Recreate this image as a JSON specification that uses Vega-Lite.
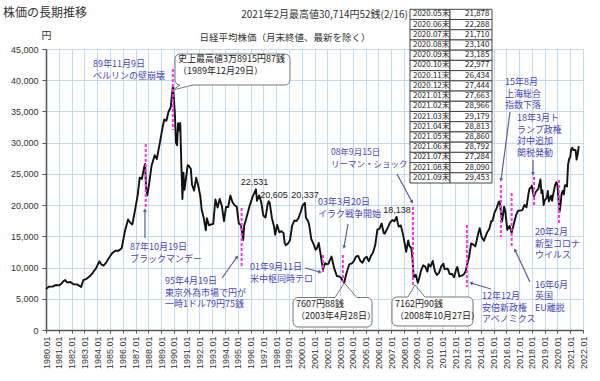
{
  "$schema": "https://vega.github.io/schema/vega-lite/v6.json",
  "width": 537,
  "height": 281,
  "autosize": {"type": "none"},
  "padding": {"left": 46, "top": 49, "right": 17, "bottom": 51},
  "background": "white",
  "config": {
    "font": "Noto Sans CJK JP",
    "view": {"stroke": "#a0a8b0"},
    "axis": {
      "labelFont": "Liberation Sans",
      "labelFontSize": 9,
      "labelColor": "#333",
      "gridColor": "#c2daf2",
      "gridOpacity": 1,
      "domainColor": "#555",
      "domainWidth": 1.5,
      "tickColor": "#555"
    }
  },
  "datasets": {
    "nikkei": [
      {"t":1980.00,"v":6560},{"t":1980.25,"v":6950},{"t":1980.50,"v":6950},{"t":1980.75,"v":7200},
      {"t":1981.00,"v":7150},{"t":1981.17,"v":7350},{"t":1981.33,"v":7750},{"t":1981.50,"v":8000},{"t":1981.67,"v":7600},{"t":1981.92,"v":7680},
      {"t":1982.17,"v":7300},{"t":1982.42,"v":7300},{"t":1982.75,"v":6900},{"t":1982.92,"v":8000},
      {"t":1983.17,"v":8200},{"t":1983.42,"v":8600},{"t":1983.67,"v":9200},{"t":1983.92,"v":9900},
      {"t":1984.17,"v":11000},{"t":1984.33,"v":10500},{"t":1984.50,"v":10300},{"t":1984.67,"v":10700},{"t":1984.92,"v":11540},
      {"t":1985.17,"v":12300},{"t":1985.42,"v":12700},{"t":1985.67,"v":12700},{"t":1985.92,"v":13110},
      {"t":1986.17,"v":15800},{"t":1986.42,"v":17700},{"t":1986.58,"v":17200},{"t":1986.75,"v":16900},{"t":1986.92,"v":18700},
      {"t":1987.17,"v":21600},{"t":1987.33,"v":24400},{"t":1987.50,"v":24200},{"t":1987.67,"v":26010},{"t":1987.75,"v":26600},{"t":1987.83,"v":22800},{"t":1987.92,"v":21560},
      {"t":1988.08,"v":23600},{"t":1988.25,"v":26260},{"t":1988.50,"v":28000},{"t":1988.67,"v":27400},{"t":1988.92,"v":30160},
      {"t":1989.08,"v":32000},{"t":1989.25,"v":33700},{"t":1989.42,"v":33500},{"t":1989.58,"v":34950},{"t":1989.75,"v":35640},{"t":1989.83,"v":37270},{"t":1989.92,"v":38916},
      {"t":1990.00,"v":37190},{"t":1990.08,"v":34590},{"t":1990.17,"v":29980},{"t":1990.25,"v":29590},{"t":1990.33,"v":33130},{"t":1990.42,"v":31940},{"t":1990.50,"v":33170},{"t":1990.58,"v":26900},{"t":1990.67,"v":20980},{"t":1990.75,"v":25190},{"t":1990.83,"v":22450},{"t":1990.92,"v":23850},
      {"t":1991.08,"v":26400},{"t":1991.17,"v":26300},{"t":1991.33,"v":25790},{"t":1991.42,"v":23290},{"t":1991.58,"v":22340},{"t":1991.75,"v":24400},{"t":1991.92,"v":22980},
      {"t":1992.08,"v":21300},{"t":1992.17,"v":19350},{"t":1992.33,"v":18000},{"t":1992.50,"v":15950},{"t":1992.58,"v":17900},{"t":1992.75,"v":16770},{"t":1992.92,"v":16920},
      {"t":1993.08,"v":17000},{"t":1993.25,"v":20900},{"t":1993.42,"v":19600},{"t":1993.58,"v":21000},{"t":1993.75,"v":19900},{"t":1993.92,"v":17420},
      {"t":1994.08,"v":19700},{"t":1994.25,"v":19700},{"t":1994.42,"v":21550},{"t":1994.58,"v":20500},{"t":1994.75,"v":19990},{"t":1994.92,"v":19720},
      {"t":1995.08,"v":17050},{"t":1995.25,"v":16810},{"t":1995.42,"v":14410},{"t":1995.50,"v":16680},{"t":1995.67,"v":17910},{"t":1995.92,"v":19870},
      {"t":1996.17,"v":21400},{"t":1996.42,"v":22531},{"t":1996.50,"v":20700},{"t":1996.67,"v":21560},{"t":1996.83,"v":20500},{"t":1996.92,"v":19360},
      {"t":1997.00,"v":18330},{"t":1997.17,"v":18000},{"t":1997.33,"v":20070},{"t":1997.42,"v":20605},{"t":1997.50,"v":20330},{"t":1997.67,"v":17900},{"t":1997.83,"v":16630},{"t":1997.92,"v":15260},
      {"t":1998.08,"v":16830},{"t":1998.25,"v":15640},{"t":1998.42,"v":15830},{"t":1998.58,"v":15520},{"t":1998.67,"v":13900},{"t":1998.75,"v":13560},{"t":1998.92,"v":13840},
      {"t":1999.08,"v":14360},{"t":1999.25,"v":16700},{"t":1999.42,"v":17530},{"t":1999.58,"v":17440},{"t":1999.75,"v":17940},{"t":1999.92,"v":18930},
      {"t":2000.08,"v":19960},{"t":2000.25,"v":20337},{"t":2000.33,"v":17970},{"t":2000.50,"v":17410},{"t":2000.58,"v":16860},{"t":2000.75,"v":14540},{"t":2000.92,"v":13790},
      {"t":2001.08,"v":12880},{"t":2001.17,"v":12990},{"t":2001.33,"v":13930},{"t":2001.50,"v":11860},{"t":2001.58,"v":10710},{"t":2001.67,"v":9770},{"t":2001.83,"v":10700},{"t":2001.92,"v":10540},
      {"t":2002.08,"v":10590},{"t":2002.17,"v":11020},{"t":2002.33,"v":11760},{"t":2002.50,"v":10250},{"t":2002.58,"v":9620},{"t":2002.75,"v":8640},{"t":2002.92,"v":8580},
      {"t":2003.08,"v":8360},{"t":2003.17,"v":7970},{"t":2003.33,"v":7607},{"t":2003.42,"v":8420},{"t":2003.50,"v":9080},{"t":2003.67,"v":10220},{"t":2003.75,"v":10560},{"t":2003.92,"v":10680},
      {"t":2004.08,"v":11040},{"t":2004.25,"v":11800},{"t":2004.42,"v":11860},{"t":2004.58,"v":11080},{"t":2004.75,"v":10770},{"t":2004.92,"v":11490},
      {"t":2005.08,"v":11740},{"t":2005.25,"v":11010},{"t":2005.42,"v":11900},{"t":2005.58,"v":12410},{"t":2005.75,"v":13600},{"t":2005.92,"v":16110},
      {"t":2006.08,"v":16200},{"t":2006.25,"v":17060},{"t":2006.42,"v":15500},{"t":2006.50,"v":15450},{"t":2006.67,"v":16130},{"t":2006.92,"v":17230},
      {"t":2007.08,"v":17600},{"t":2007.25,"v":17400},{"t":2007.42,"v":18138},{"t":2007.50,"v":17250},{"t":2007.58,"v":16570},{"t":2007.75,"v":16740},{"t":2007.92,"v":15310},
      {"t":2008.08,"v":13600},{"t":2008.17,"v":12530},{"t":2008.33,"v":14340},{"t":2008.42,"v":13480},{"t":2008.58,"v":13070},{"t":2008.67,"v":11260},{"t":2008.75,"v":8580},{"t":2008.83,"v":8510},{"t":2008.92,"v":8860},
      {"t":2009.08,"v":7570},{"t":2009.17,"v":8110},{"t":2009.33,"v":9520},{"t":2009.50,"v":10360},{"t":2009.67,"v":10130},{"t":2009.83,"v":9350},{"t":2009.92,"v":10550},
      {"t":2010.08,"v":10130},{"t":2010.25,"v":11060},{"t":2010.42,"v":9380},{"t":2010.58,"v":8820},{"t":2010.75,"v":9200},{"t":2010.92,"v":10230},
      {"t":2011.08,"v":10620},{"t":2011.17,"v":9760},{"t":2011.42,"v":9820},{"t":2011.58,"v":8950},{"t":2011.75,"v":8990},{"t":2011.92,"v":8460},
      {"t":2012.08,"v":9720},{"t":2012.17,"v":10080},{"t":2012.33,"v":8540},{"t":2012.50,"v":8700},{"t":2012.67,"v":8870},{"t":2012.83,"v":9450},{"t":2012.92,"v":10395},
      {"t":2013.08,"v":11560},{"t":2013.25,"v":13860},{"t":2013.42,"v":13680},{"t":2013.58,"v":13390},{"t":2013.83,"v":15660},{"t":2013.92,"v":16290},
      {"t":2014.08,"v":14840},{"t":2014.25,"v":14300},{"t":2014.50,"v":15620},{"t":2014.67,"v":16170},{"t":2014.83,"v":17460},{"t":2014.92,"v":17450},
      {"t":2015.08,"v":18800},{"t":2015.25,"v":19520},{"t":2015.42,"v":20560},{"t":2015.50,"v":20590},{"t":2015.58,"v":18890},{"t":2015.67,"v":17390},{"t":2015.83,"v":19750},{"t":2015.92,"v":19030},
      {"t":2016.00,"v":17520},{"t":2016.08,"v":16030},{"t":2016.25,"v":16670},{"t":2016.42,"v":15580},{"t":2016.58,"v":16890},{"t":2016.75,"v":18310},{"t":2016.92,"v":19110},
      {"t":2017.08,"v":19120},{"t":2017.25,"v":19200},{"t":2017.42,"v":20030},{"t":2017.58,"v":19650},{"t":2017.75,"v":22010},{"t":2017.83,"v":22720},{"t":2017.92,"v":22760},
      {"t":2018.00,"v":23100},{"t":2018.08,"v":22070},{"t":2018.17,"v":21450},{"t":2018.33,"v":22200},{"t":2018.50,"v":22550},{"t":2018.67,"v":24120},{"t":2018.75,"v":21920},{"t":2018.83,"v":22350},{"t":2018.92,"v":20010},
      {"t":2019.00,"v":20770},{"t":2019.17,"v":21200},{"t":2019.25,"v":22260},{"t":2019.33,"v":20600},{"t":2019.50,"v":21520},{"t":2019.58,"v":20700},{"t":2019.67,"v":21760},{"t":2019.83,"v":23290},{"t":2019.92,"v":23660},
      {"t":2020.00,"v":23200},{"t":2020.08,"v":21140},{"t":2020.17,"v":18920},{"t":2020.25,"v":20190},{"t":2020.33,"v":21878},{"t":2020.42,"v":22288},{"t":2020.50,"v":21710},{"t":2020.58,"v":23140},{"t":2020.67,"v":23185},{"t":2020.75,"v":22977},{"t":2020.83,"v":26434},{"t":2020.92,"v":27444},
      {"t":2021.00,"v":27663},{"t":2021.08,"v":28966},{"t":2021.17,"v":29179},{"t":2021.25,"v":28813},{"t":2021.33,"v":28860},{"t":2021.42,"v":28792},{"t":2021.50,"v":27284},{"t":2021.58,"v":28090},{"t":2021.67,"v":29453}
    ],
    "events": [
      {"t":1987.80,"v":29786,"v2":19697},
      {"t":1989.92,"v":41797,"v2":32028},
      {"t":1995.30,"v":19537,"v2":10089},
      {"t":2001.67,"v":12011,"v2":9288},
      {"t":2003.22,"v":12011,"v2":7687},
      {"t":2008.70,"v":19697,"v2":6886},
      {"t":2012.92,"v":16815,"v2":6886},
      {"t":2015.58,"v":23220,"v2":14893},
      {"t":2016.42,"v":21939,"v2":13131},
      {"t":2018.17,"v":24501,"v2":20017},
      {"t":2020.12,"v":24021,"v2":17135}
    ],
    "arrows": [
      {"t":1987.74,"v":14732,"t2":1987.74,"v2":19217},
      {"t":1993.77,"v":8327,"t2":1994.94,"v2":11690},
      {"t":2000.26,"v":9929,"t2":2001.43,"v2":9288},
      {"t":2003.62,"v":16975,"t2":2003.31,"v2":13292},
      {"t":2007.45,"v":24982,"t2":2008.63,"v2":20498},
      {"t":2014.80,"v":6566,"t2":2013.24,"v2":7527},
      {"t":2016.29,"v":34911,"t2":2015.59,"v2":24021},
      {"t":2018.09,"v":27224,"t2":2018.09,"v2":24982},
      {"t":2017.85,"v":7687,"t2":2016.68,"v2":12811}
    ],
    "notes": [
      {"t":1983.68,"v":43238,"lines":["89年11月9日","ベルリンの壁崩壊"]},
      {"t":1986.57,"v":13932,"lines":["87年10月19日","ブラックマンデー"]},
      {"t":1989.31,"v":8487,"lines":["95年4月19日","東京外為市場で円が","一時1ドル79円75銭"]},
      {"t":1995.95,"v":10729,"lines":["01年9月11日","米中枢同時テロ"]},
      {"t":2001.27,"v":21138,"lines":["03年3月20日","イラク戦争開始"]},
      {"t":2014.10,"v":6085,"lines":["12年12月","安倍新政権","アベノミクス"]},
      {"t":2015.90,"v":40355,"lines":["15年8月","上海総合","指数下落"]},
      {"t":2016.84,"v":34590,"lines":["18年3月ト","ランプ政権","対中追加","関税発動"]},
      {"t":2018.25,"v":7847,"lines":["16年6月","英国","EU離脱"]},
      {"t":2018.25,"v":16334,"lines":["20年2月","新型コロナ","ウイルス"]}
    ],
    "nums": [
      {"t":1996.30,"v":23700,"s":"22,531"},
      {"t":1997.83,"v":21619,"s":"20,605"},
      {"t":2000.26,"v":21619,"s":"20,337"},
      {"t":2007.45,"v":19217,"s":"18,138"}
    ],
    "boxes": [
      {"t":1990.09,"t2":1999.08,"v":44199,"v2":39234},
      {"t":1999.32,"t2":2005.50,"v":5204,"v2":480},
      {"t":2007.06,"t2":2013.40,"v":5285,"v2":641}
    ],
    "pointers": [
      {"tl":1990.48,"tr":1991.50,"vb":39234,"tt":1989.92,"vt":38434},
      {"tl":2002.60,"tr":2004.32,"vb":5204,"tt":2003.33,"vt":7527},
      {"tl":2008.31,"tr":2009.64,"vb":5285,"tt":2008.86,"vt":7206}
    ],
    "boxtext": [
      {"t":1990.32,"v":44039,"lines":["史上最高値3万8915円87銭","（1989年12月29日）"]},
      {"t":1999.55,"v":4884,"lines":["7607円88銭","（2003年4月28日）"]},
      {"t":2007.30,"v":4884,"lines":["7162円90銭","（2008年10月27日）"]}
    ],
    "table": [
      {"m":"2020.05末","val":"21,878"},
      {"m":"2020.06末","val":"22,288"},
      {"m":"2020.07末","val":"21,710"},
      {"m":"2020.08末","val":"23,140"},
      {"m":"2020.09末","val":"23,185"},
      {"m":"2020.10末","val":"22,977"},
      {"m":"2020.11末","val":"26,434"},
      {"m":"2020.12末","val":"27,444"},
      {"m":"2021.01末","val":"27,663"},
      {"m":"2021.02末","val":"28,966"},
      {"m":"2021.03末","val":"29,179"},
      {"m":"2021.04末","val":"28,813"},
      {"m":"2021.05末","val":"28,860"},
      {"m":"2021.06末","val":"28,792"},
      {"m":"2021.07末","val":"27,284"},
      {"m":"2021.08末","val":"28,090"},
      {"m":"2021.09末","val":"29,453"}
    ]
  },
  "layer": [
    {
      "layer": [
        {
          "data": {"name": "nikkei"},
          "mark": {"type": "line", "color": "#111", "strokeWidth": 1.9, "strokeJoin": "round"},
          "encoding": {
            "x": {
              "field": "t", "type": "quantitative",
              "scale": {"domain": [1980, 2022], "nice": false, "zero": false},
              "axis": {"title": null, "tickCount": 42, "labelExpr": "datum.value + '.01'", "labelAngle": -90, "labelAlign": "right", "labelBaseline": "middle", "labelFlush": false, "labelOverlap": false, "tickSize": 3, "labelPadding": 3, "grid": true}
            },
            "y": {
              "field": "v", "type": "quantitative",
              "scale": {"domain": [0, 45000], "nice": false},
              "axis": {"tickCount": 9, "title": "円", "titleAngle": 0, "titleX": 0, "titleY": -14, "titleAlign": "center", "titleBaseline": "middle", "titleFontSize": 10, "titleFontWeight": "normal", "titleFont": "Noto Sans CJK JP", "titleColor": "#333", "tickSize": 4, "labelPadding": 4, "grid": true, "labelOverlap": false}
            }
          }
        },
        {
          "data": {"name": "events"},
          "mark": {"type": "rule", "color": "#ff33ee", "strokeWidth": 2, "strokeDash": [3, 2]},
          "encoding": {
            "x": {"field": "t", "type": "quantitative"},
            "y": {"field": "v", "type": "quantitative"},
            "y2": {"field": "v2"}
          }
        },
        {
          "data": {"name": "arrows"},
          "mark": {"type": "rule", "color": "#5a5aa8", "strokeWidth": 1.2},
          "encoding": {
            "x": {"field": "t", "type": "quantitative"},
            "y": {"field": "v", "type": "quantitative"},
            "x2": {"field": "t2"},
            "y2": {"field": "v2"}
          }
        },
        {
          "data": {"name": "arrows"},
          "mark": {"type": "point", "shape": "triangle-up", "filled": true, "size": 16, "color": "#5a5aa8", "opacity": 1, "angle": {"expr": "atan2((datum.t2-datum.t)*12.786,(datum.v2-datum.v)/160.14)*180/PI"}},
          "encoding": {
            "x": {"field": "t2", "type": "quantitative"},
            "y": {"field": "v2", "type": "quantitative"}
          }
        },
        {
          "data": {"name": "notes"},
          "mark": {"type": "text", "align": "left", "baseline": "top", "fontSize": 9, "lineHeight": 11.5, "color": "#4646c0"},
          "encoding": {
            "x": {"field": "t", "type": "quantitative"},
            "y": {"field": "v", "type": "quantitative"},
            "text": {"field": "lines"}
          }
        },
        {
          "data": {"values": [{"t": 2002.30, "v": 29145, "lines": ["08年9月15日", "リーマン・ショック"]}]},
          "mark": {"type": "text", "align": "left", "baseline": "top", "fontSize": 8.5, "lineHeight": 11.5, "color": "#4646c0"},
          "encoding": {
            "x": {"field": "t", "type": "quantitative"},
            "y": {"field": "v", "type": "quantitative"},
            "text": {"field": "lines"}
          }
        },
        {
          "data": {"name": "nums"},
          "mark": {"type": "text", "align": "center", "baseline": "middle", "fontSize": 9, "font": "Liberation Sans", "color": "#222"},
          "encoding": {
            "x": {"field": "t", "type": "quantitative"},
            "y": {"field": "v", "type": "quantitative"},
            "text": {"field": "s"}
          }
        },
        {
          "data": {"name": "boxes"},
          "mark": {"type": "rect", "fill": "white", "stroke": "#777", "strokeWidth": 1, "cornerRadius": 5},
          "encoding": {
            "x": {"field": "t", "type": "quantitative"},
            "x2": {"field": "t2"},
            "y": {"field": "v", "type": "quantitative"},
            "y2": {"field": "v2"}
          }
        },
        {
          "data": {"name": "pointers"},
          "mark": {"type": "rule", "color": "white", "strokeWidth": 2.5},
          "encoding": {
            "x": {"field": "tl", "type": "quantitative"},
            "x2": {"field": "tr"},
            "y": {"field": "vb", "type": "quantitative"}
          }
        },
        {
          "data": {"name": "pointers"},
          "mark": {"type": "rule", "color": "#777", "strokeWidth": 1},
          "encoding": {
            "x": {"field": "tl", "type": "quantitative"},
            "x2": {"field": "tt"},
            "y": {"field": "vb", "type": "quantitative"},
            "y2": {"field": "vt"}
          }
        },
        {
          "data": {"name": "pointers"},
          "mark": {"type": "rule", "color": "#777", "strokeWidth": 1},
          "encoding": {
            "x": {"field": "tr", "type": "quantitative"},
            "x2": {"field": "tt"},
            "y": {"field": "vb", "type": "quantitative"},
            "y2": {"field": "vt"}
          }
        },
        {
          "data": {"name": "boxtext"},
          "mark": {"type": "text", "align": "left", "baseline": "top", "fontSize": 9, "lineHeight": 12, "color": "#222"},
          "encoding": {
            "x": {"field": "t", "type": "quantitative"},
            "y": {"field": "v", "type": "quantitative"},
            "text": {"field": "lines"}
          }
        },
        {
          "data": {"values": [{"t": 1976.64, "v": 50764, "s": "株価の長期推移"}]},
          "mark": {"type": "text", "align": "left", "baseline": "middle", "fontSize": 12, "color": "#333"},
          "encoding": {
            "x": {"field": "t", "type": "quantitative"},
            "y": {"field": "v", "type": "quantitative"},
            "text": {"field": "s"}
          }
        },
        {
          "data": {"values": [{"t": 2008.31, "v": 50444, "s": "2021年2月最高値30,714円52銭(2/16)"}]},
          "mark": {"type": "text", "align": "right", "baseline": "middle", "fontSize": 10, "color": "#333"},
          "encoding": {
            "x": {"field": "t", "type": "quantitative"},
            "y": {"field": "v", "type": "quantitative"},
            "text": {"field": "s"}
          }
        },
        {
          "data": {"values": [{"t": 1998.69, "v": 46761, "s": "日経平均株価（月末終値、最新を除く）"}]},
          "mark": {"type": "text", "align": "center", "baseline": "middle", "fontSize": 9.5, "color": "#333"},
          "encoding": {
            "x": {"field": "t", "type": "quantitative"},
            "y": {"field": "v", "type": "quantitative"},
            "text": {"field": "s"}
          }
        }
      ]
    },
    {
      "data": {"name": "table"},
      "layer": [
        {
          "mark": {"type": "rect", "fill": "white", "stroke": "#444", "strokeWidth": 1},
          "encoding": {
            "x": {"datum": 2008.468, "type": "quantitative"},
            "x2": {"datum": 2011.597},
            "y": {"field": "m", "type": "ordinal", "sort": null, "scale": {"type": "band", "range": [-39.7, 134], "paddingInner": 0, "paddingOuter": 0}, "axis": null}
          }
        },
        {
          "mark": {"type": "rect", "fill": "white", "stroke": "#444", "strokeWidth": 1},
          "encoding": {
            "x": {"datum": 2011.597, "type": "quantitative"},
            "x2": {"datum": 2014.882},
            "y": {"field": "m", "type": "ordinal", "sort": null, "scale": {"type": "band"}, "axis": null}
          }
        },
        {
          "mark": {"type": "text", "align": "left", "baseline": "middle", "fontSize": 8, "color": "#222"},
          "encoding": {
            "x": {"datum": 2008.70, "type": "quantitative"},
            "y": {"field": "m", "type": "ordinal", "sort": null, "scale": {"type": "band"}, "axis": null},
            "text": {"field": "m"}
          }
        },
        {
          "mark": {"type": "text", "align": "right", "baseline": "middle", "fontSize": 8, "color": "#222"},
          "encoding": {
            "x": {"datum": 2014.686, "type": "quantitative"},
            "y": {"field": "m", "type": "ordinal", "sort": null, "scale": {"type": "band"}, "axis": null},
            "text": {"field": "val"}
          }
        }
      ]
    }
  ],
  "resolve": {"scale": {"y": "independent"}}
}
